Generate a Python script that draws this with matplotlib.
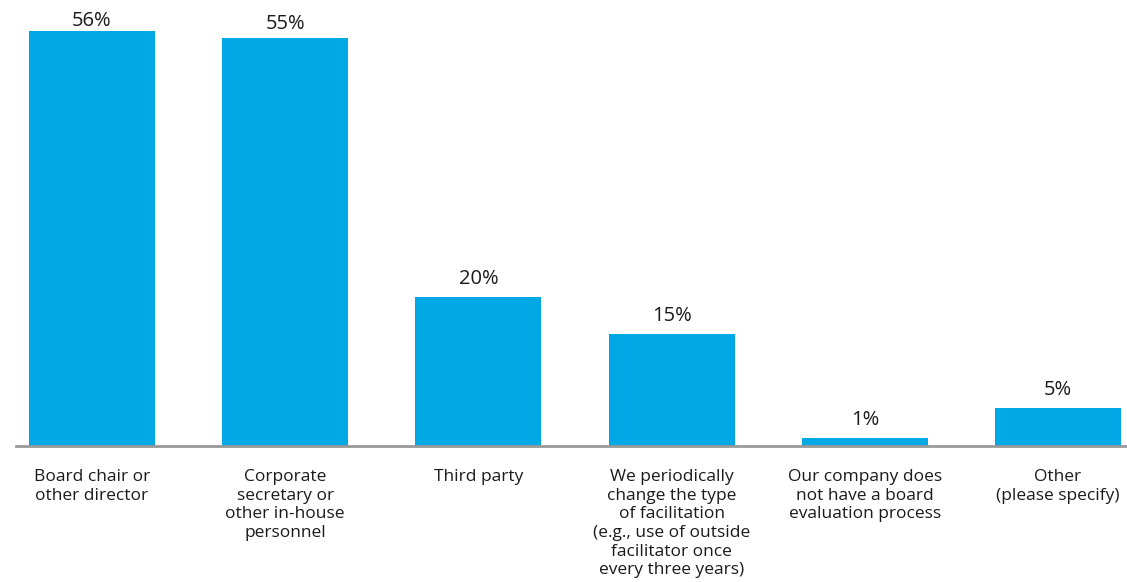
import matplotlib
matplotlib.use("Agg")
from matplotlib import pyplot as plt

# survey results
categories = [
    "Board chair or\nother director",
    "Corporate\nsecretary or\nother in-house\npersonnel",
    "Third party",
    "We periodically\nchange the type\nof facilitation\n(e.g., use of outside\nfacilitator once\nevery three years)",
    "Our company does\nnot have a board\nevaluation process",
    "Other\n(please specify)",
]
values = [56, 55, 20, 15, 1, 5]

BAR_COLOR = "#00A9E6"
TEXT_COLOR = "#1a1a1a"
# gap (pixels) between bar top and label baseline; the two tall bars
# have their labels squeezed down under the top edge
label_gap_px = [5.5, 9.0, 13.5, 13.5, 13.5, 13.5]

plt.rcParams["font.family"] = ["Open Sans", "DejaVu Sans"]

fig = plt.figure(figsize=(11.27, 5.82), dpi=100)
ax = fig.add_axes([16 / 1127, (582 - 445.5) / 582, 1111 / 1127, 445.5 / 582])

x = list(range(len(values)))
bars = ax.bar(x, values, width=0.652, color=BAR_COLOR)

for b, v, gap in zip(bars, values, label_gap_px):
    ax.annotate(f"{v}%", (b.get_x() + b.get_width() / 2, v),
                xytext=(0, gap * 72 / 100), textcoords="offset points",
                ha="center", va="baseline", fontsize=14.5, color=TEXT_COLOR,
                annotation_clip=False)

ax.set_xlim(-0.393, 5.357)
ax.set_ylim(0, 60.2)

ax.set_xticks(x)
ax.set_xticklabels(categories, fontsize=12.5, color=TEXT_COLOR, linespacing=1.22)
ax.tick_params(axis="x", length=0, pad=17)
ax.set_yticks([])

for side in ["top", "right", "left"]:
    ax.spines[side].set_visible(False)
ax.spines["bottom"].set_color("#999999")
ax.spines["bottom"].set_linewidth(2)

fig.savefig("out.png", dpi=100)
